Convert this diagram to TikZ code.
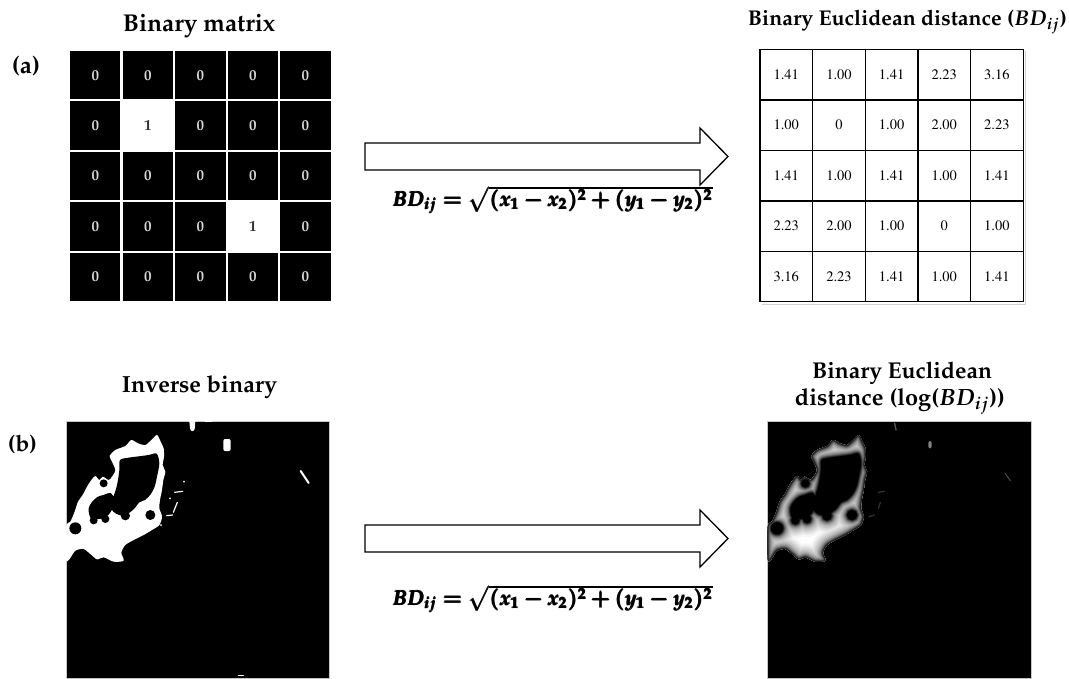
\documentclass[tikz,border=0pt]{standalone}
\usepackage[T1]{fontenc}
\usepackage{mathpazo}
\usepackage{amsmath}
\usepackage{graphicx}
\newcommand{\fitw}[2]{\resizebox{#1pt}{!}{#2}}
\definecolor{mzero}{HTML}{D8D8D8}
\definecolor{mone}{HTML}{333333}
% blob shape (image-local units: 1 unit = 1/3 px)
\def\blobouter{plot[smooth cycle, tension=0.45] coordinates {(18,433) (18,335) (31,320) (44,290) (54,260) (68,240) (81,215) (94,195) (106,183) (118,195) (128,185) (146,195) (156,185) (166,165) (156,140) (149,123) (166,105) (196,93) (214,75) (234,85) (256,90) (274,75) (291,60) (302,80) (311,100) (312,125) (308,150) (316,170) (310,195) (306,225) (300,255) (298,280) (306,305) (298,330) (276,345) (251,360) (221,375) (196,390) (184,413) (191,437) (161,440) (131,427) (111,433) (91,417) (71,402) (46,407) (28,433)}}
\def\blobholes{plot[smooth cycle, tension=0.5] coordinates {(180,135) (206,128) (236,124) (266,120) (290,116) (298,145) (291,185) (284,215) (272,238) (255,255) (238,262) (222,282) (200,298) (178,300) (160,290) (150,268) (160,245) (168,222) (174,195) (178,165)} plot[smooth cycle, tension=0.5] coordinates {(95,262) (112,246) (130,240) (152,234) (162,252) (158,280) (145,300) (130,310) (112,312) (96,314) (88,300) (86,280)} (131,205) circle[radius=12] (46,340) circle[radius=18] (101,316) circle[radius=12] (136,312) circle[radius=12] (271,300) circle[radius=15] (196,302) circle[radius=14]}
\begin{document}
\begin{tikzpicture}[x=1pt,y=-1pt,
  title/.style={font=\bfseries\boldmath, inner sep=0pt},
  mcell/.style={minimum width=50.3pt, minimum height=48.3pt, inner sep=0pt, font=\fontsize{15}{15}\selectfont\bfseries},
  tcell/.style={draw=black, line width=1.3pt, minimum width=52.6pt, minimum height=50.4pt, inner sep=0pt, font=\fontfamily{ptm}\fontsize{14.5}{14.5}\selectfont},
  bigarrow/.style={draw=black, fill=white, line width=1.3pt, line join=miter},
  imgbox/.style={fill=black, draw=gray!45, line width=0.6pt, minimum width=263.6pt, minimum height=257.3pt, inner sep=0pt, anchor=north west},
  formula/.style={inner sep=0pt, font=\boldmath},
  bit/.style={line cap=round, line width=1.2pt}
  ]
\path[fill=white] (0,0) rectangle (1069,678);
\useasboundingbox (0,0) rectangle (1069,678);

% ---------- (a) ----------
\node[title] (la) at (26,66) {\fitw{28}{(a)}};
\node[title] (tA) at (199,26) {\fitw{152}{Binary matrix}};
\foreach \r in {0,...,4}{\foreach \c in {0,...,4}{
  \ifnum\r=\c \ifodd\r \def\fc{white}\def\tc{mone}\def\v{1}\else\def\fc{black}\def\tc{mzero}\def\v{0}\fi
  \else \def\fc{black}\def\tc{mzero}\def\v{0}\fi
  \node[mcell, fill=\fc, text=\tc] (m\r\c) at ({69+52.55*\c+26.27},{50+50.4*\r+25.2}) {\v};
}}

\node[title] (tB) at (907.5,22) {\fitw{319}{Binary Euclidean distance ($BD_{ij}$)}};
\draw[gray!35, line width=1pt] (1025.5,51) -- (1025.5,304) -- (762,304);
\foreach \r/\vals in {0/{1.41,1.00,1.41,2.23,3.16},1/{1.00,0,1.00,2.00,2.23},2/{1.41,1.00,1.41,1.00,1.41},3/{2.23,2.00,1.00,0,1.00},4/{3.16,2.23,1.41,1.00,1.41}}{
  \foreach \v [count=\c from 0] in \vals {
    \node[tcell] (t\r\c) at ({760+52.65*\c+26.3},{49.3+50.5*\r+25.25}) {\v};
  }
}

\draw[bigarrow] (365,143) -- (700,143) -- (700,128) -- (728,156.5) -- (700,185) -- (700,170) -- (365,170) -- cycle;
\node[formula] (fA) at (553,200) {\fitw{320}{\pmb{$BD_{ij}=\sqrt{(x_1-x_2)^2+(y_1-y_2)^2}$}}};

% ---------- (b) ----------
\node[title] (lb) at (22.5,445) {\fitw{29}{(b)}};
\node[title] (tC) at (199.5,387) {\fitw{155}{Inverse binary}};
\node[title] (tD1) at (902,373) {\fitw{180}{Binary Euclidean}};
\node[title] (tD2) at (900,401) {\fitw{210}{distance (log($BD_{ij}$))}};

\node[imgbox] (imgL) at (65.7,420.7) {};
\node[imgbox] (imgR) at (767.3,420.7) {};

\begin{scope}[shift={(60,415)}, x=0.33333pt, y=-0.33333pt]
  \fill[white] \blobouter;
  \fill[black] \blobholes;
  \fill[white] (388,18) -- (406,18) -- (404,42) .. controls (400,52) and (392,50) .. (390,40) -- cycle;
  \fill[white] (435,18) rectangle (455,22);
  \fill[white, rounded corners=2pt] (490,72) rectangle (512,108);
  \draw[white, line width=2pt, line cap=round] (722,168) -- (746,204);
  \draw[white, bit] (344,232) -- (368,229);
  \draw[white, bit] (352,262) -- (340,292);
  \draw[white, bit] (320,302) -- (338,300);
  \fill[white] (372,200) circle[radius=3] (330,250) circle[radius=3] (303,330) circle[radius=3];
  \draw[white, bit] (535,781) -- (550,781);
\end{scope}

\begin{scope}[shift={(761.7,415)}, x=0.33333pt, y=-0.33333pt]
  \begin{scope}
    \clip \blobouter;
    \fill[white] \blobouter;
    \foreach \w/\g in {28/96,23.3/90,19.3/84,16/78,12.7/71,10/63,7.7/54,5.7/44,4/33,2.7/22,1.3/10}{
      \draw[line width=\w pt, white!\g!black, line join=round] \blobouter \blobholes;
    }
  \end{scope}
  \fill[black] \blobholes;
  \draw[gray!70!black, line width=1.3pt, line cap=round] (399,25) -- (403,45);
  \fill[gray, rounded corners=2pt] (500,78) rectangle (510,100);
  \draw[gray!60!black, line width=1pt, line cap=round] (730,175) -- (746,197);
  \draw[gray!40!black, bit] (350,232) -- (368,229);
  \draw[gray!40!black, bit] (356,262) -- (350,280);
  \draw[gray!40!black, bit] (322,305) -- (338,300);
\end{scope}

\draw[bigarrow] (365,525) -- (700,525) -- (700,510) -- (728,538.5) -- (700,567) -- (700,552) -- (365,552) -- cycle;
\node[formula] (fB) at (553,599) {\fitw{320}{\pmb{$BD_{ij}=\sqrt{(x_1-x_2)^2+(y_1-y_2)^2}$}}};
\end{tikzpicture}
\end{document}
